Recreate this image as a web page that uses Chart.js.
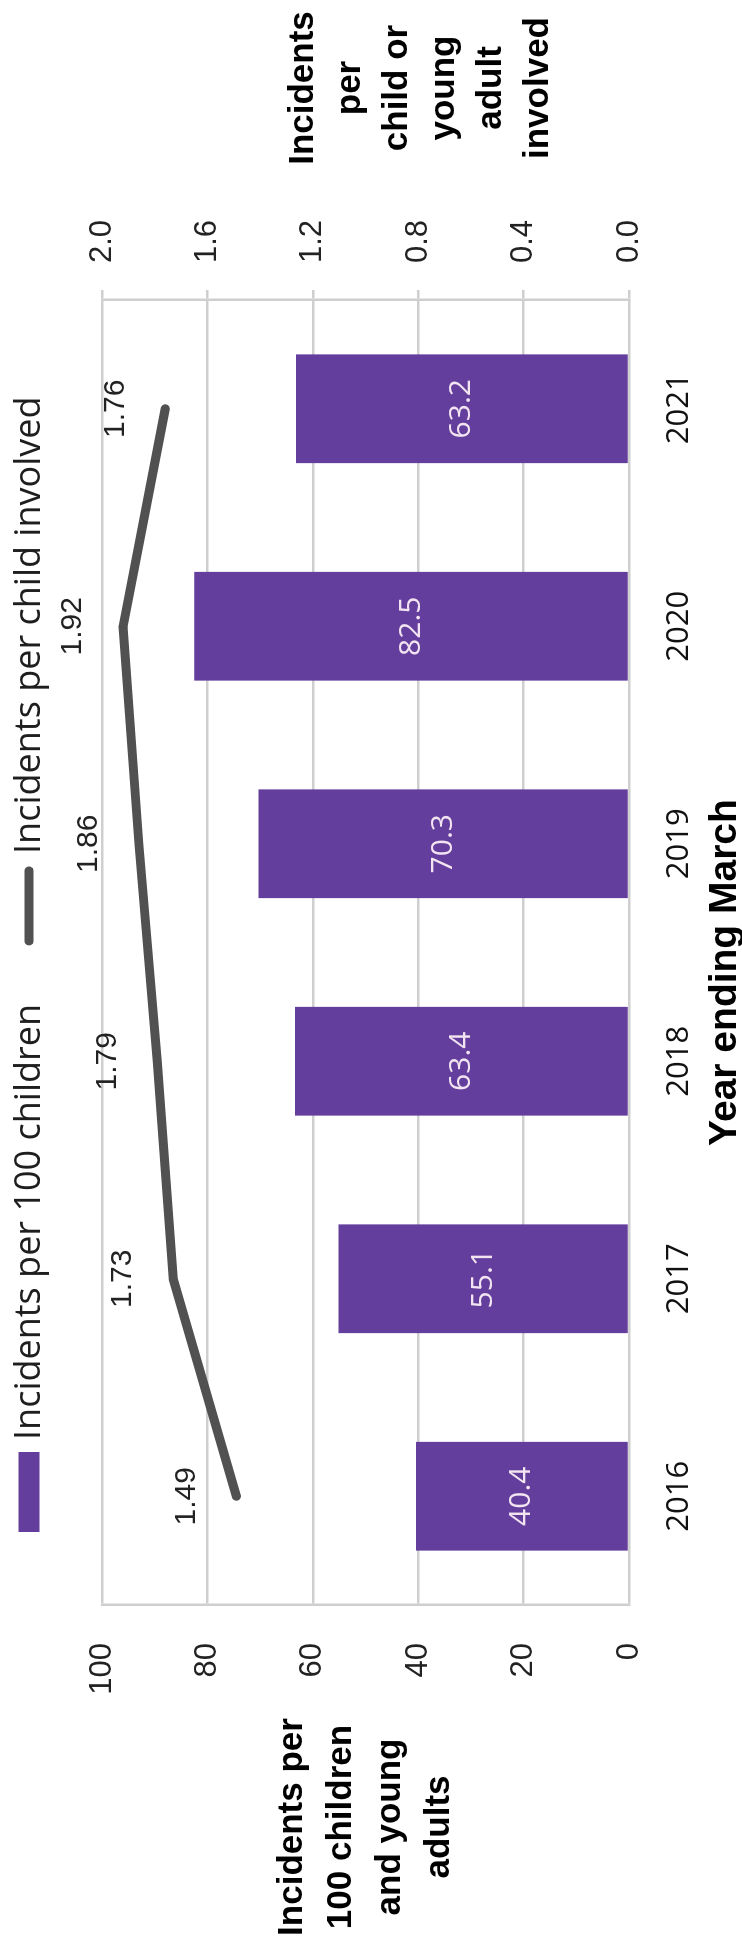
<!DOCTYPE html>
<html lang="en">
<head>
<meta charset="utf-8">
<title>Incidents per 100 children and per child involved</title>
<script src="https://cdn.jsdelivr.net/npm/chart.js@4.4.1/dist/chart.umd.min.js"></script>
<style>
  html, body { margin: 0; padding: 0; background: #fff; }
  body { width: 742px; height: 1948px; overflow: hidden; position: relative; }
  /* chart is laid out landscape and turned a quarter turn anticlockwise */
  #wrap {
    position: absolute; left: 0; top: 0;
    width: 1948px; height: 742px;
    transform-origin: 0 0;
    transform: translate(0, 1948px) rotate(-90deg);
  }
</style>
</head>
<body>
<div id="wrap"><canvas id="chart" width="1948" height="742"></canvas></div>
<script>
const years = ['2016', '2017', '2018', '2019', '2020', '2021'];
const per100 = [40.4, 55.1, 63.4, 70.3, 82.5, 63.2];
const perChild = [1.49, 1.73, 1.79, 1.86, 1.92, 1.76];

const barName = 'Incidents per 100 children';
const lineName = 'Incidents per child involved';
const leftTitle = ['Incidents per', '100 children', 'and young', 'adults'];
const rightTitle = ['Incidents', 'per', 'child or', 'young', 'adult', 'involved'];
const xTitle = 'Year ending March';

const purple = '#633e9d';
const lineGrey = '#515151';
const gridGrey = '#cfcfcf';
const sans = '"Liberation Sans", Arial, sans-serif';
const open = '"Open Sans", sans-serif';

// legend, axis titles and value labels
const extras = {
  id: 'extras',
  afterDraw(chart) {
    const ctx = chart.ctx;
    const area = chart.chartArea;
    const midX = (area.left + area.right) / 2;
    const midY = (area.top + area.bottom) / 2;
    ctx.save();

    // legend row, starts just right of the plot's left quarter
    ctx.font = '36px ' + open;
    const w1 = ctx.measureText(barName).width;
    const mark = 80, gap = 12, itemGap = 58;
    let x = 416;
    const ly = 29;
    ctx.fillStyle = purple;
    ctx.fillRect(x, ly - 10.5, mark, 21);
    x += mark + gap;
    ctx.fillStyle = '#1e1e1e';
    ctx.textBaseline = 'middle';
    ctx.textAlign = 'left';
    ctx.fillText(barName, x, ly + 1);
    x += w1 + itemGap;
    ctx.strokeStyle = lineGrey;
    ctx.lineWidth = 9;
    ctx.lineCap = 'round';
    ctx.beginPath();
    ctx.moveTo(x + 5, ly);
    ctx.lineTo(x + mark - 5, ly);
    ctx.stroke();
    x += mark + gap;
    ctx.fillText(lineName, x, ly + 1);

    // axis titles
    ctx.fillStyle = '#000';
    ctx.font = 'bold 35px ' + sans;
    ctx.textAlign = 'center';
    ctx.textBaseline = 'middle';
    leftTitle.forEach((t, i) => {
      ctx.fillText(t, 121, midY + (i - (leftTitle.length - 1) / 2) * 49);
    });
    rightTitle.forEach((t, i) => {
      ctx.fillText(t, 1860, midY + 55 + (i - (rightTitle.length - 1) / 2) * 47);
    });
    ctx.font = 'bold 39px ' + sans;
    ctx.textBaseline = 'top';
    ctx.fillText(xTitle, midX - 20, 706);

    // value labels
    ctx.textBaseline = 'middle';
    ctx.font = '30px ' + open;
    ctx.fillStyle = '#f3e4f1';
    chart.getDatasetMeta(1).data.forEach((bar, i) => {
      ctx.fillText(per100[i].toFixed(1), bar.x, (bar.y + bar.base) / 2);
    });
    ctx.font = '30px ' + sans;
    ctx.fillStyle = '#222';
    chart.getDatasetMeta(0).data.forEach((pt, i) => {
      ctx.fillText(perChild[i].toFixed(2), pt.x, pt.y - 50);
    });
    ctx.restore();
  }
};

new Chart(document.getElementById('chart'), {
  data: {
    labels: years,
    datasets: [
      {
        type: 'line',
        label: lineName,
        data: perChild,
        yAxisID: 'y2',
        borderColor: lineGrey,
        borderWidth: 9,
        borderCapStyle: 'round',
        borderJoinStyle: 'round',
        pointRadius: 0,
        order: 0
      },
      {
        type: 'bar',
        label: barName,
        data: per100,
        yAxisID: 'y',
        backgroundColor: purple,
        categoryPercentage: 1,
        barPercentage: 0.5,
        order: 1
      }
    ]
  },
  options: {
    responsive: false,
    devicePixelRatio: 1,
    animation: false,
    layout: { padding: { top: 102, left: 0, right: 0, bottom: 0 } },
    plugins: { legend: { display: false }, tooltip: { enabled: false } },
    scales: {
      x: {
        grid: { display: false },
        border: { display: false },
        ticks: { font: { family: open, size: 31 }, color: '#111', padding: 24 },
        afterFit: s => { s.height = 113; }
      },
      y: {
        position: 'left',
        min: 0, max: 100,
        ticks: { stepSize: 20, font: { family: sans, size: 31 }, color: '#222', padding: 38 },
        grid: { color: gridGrey, lineWidth: 2.5, drawTicks: false },
        border: { color: gridGrey, width: 2.5 },
        afterFit: s => { s.width = 343; }
      },
      y2: {
        position: 'right',
        min: 0, max: 2,
        ticks: {
          stepSize: 0.4,
          font: { family: sans, size: 31 }, color: '#222', padding: 27,
          callback: v => Number(v).toFixed(1)
        },
        grid: { drawOnChartArea: false, color: gridGrey, lineWidth: 2.5, tickLength: 10 },
        border: { color: gridGrey, width: 2.5 },
        afterFit: s => { s.width = 300; }
      }
    }
  },
  plugins: [extras]
});
</script>
</body>
</html>
